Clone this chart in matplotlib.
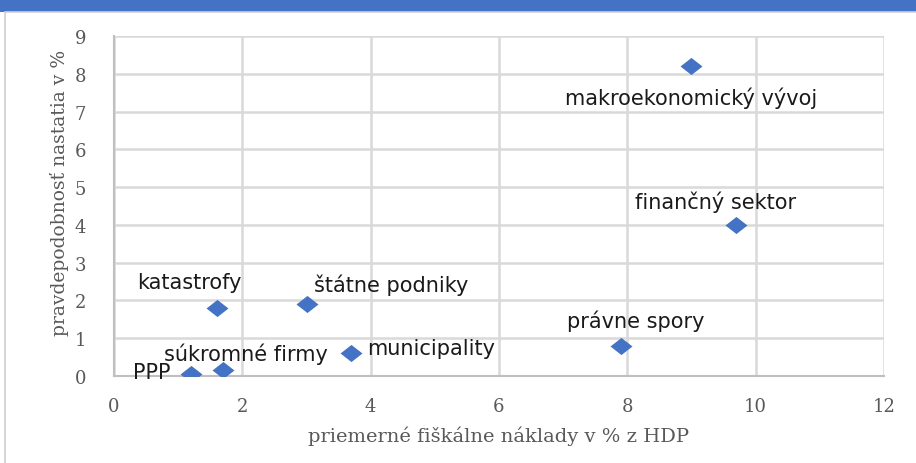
import matplotlib.pyplot as plt
from matplotlib.patches import Rectangle

# data
labels = ['makroekonomický vývoj', 'finančný sektor', 'právne spory', 'štátne podniky',
          'katastrofy', 'municipality', 'súkromné firmy', 'PPP']
costs = [9.0, 9.7, 7.9, 3.0, 1.6, 3.7, 1.7, 1.2]
probs = [8.2, 4.0, 0.8, 1.9, 1.8, 0.6, 0.17, 0.06]
# label offsets in pixels (text centre relative to point)
offsets = [(0, -31), (-21, 24), (15, 26), (85, 20), (-27, 26), (80, 5), (23, 16), (-39, 2)]

blue = '#4472C4'
grid = '#d9d9d9'
tick_col = '#595959'

fig = plt.figure(figsize=(9.16, 4.64), dpi=100)
fig.patch.set_facecolor('white')

# blue header strip and light frame
fig.patches.append(Rectangle((0, 1 - 13/464), 1, 13/464, transform=fig.transFigure,
                             facecolor=blue, edgecolor='none'))
fig.patches.append(Rectangle((5/916, -0.05), 1.1, 1 - 13/464 + 0.05, transform=fig.transFigure,
                             facecolor='none', edgecolor='#d0d0d0', lw=1.2))

ax = fig.add_axes([114/916, 87/464, 770/916, 340/464])
diamond = [(-1, 0), (0, -0.78), (1, 0), (0, 0.78), (-1, 0)]
ax.scatter(costs, probs, marker=diamond, s=250, color=blue, zorder=3, linewidths=0)

for name, x, y, off in zip(labels, costs, probs, offsets):
    ax.annotate(name, (x, y), xytext=off, textcoords='offset pixels',
                ha='center', va='center', fontsize=15, family='DejaVu Sans', color='#1a1a1a')

ax.set_xlim(0, 12)
ax.set_ylim(0, 9)
ax.set_xticks(range(0, 13, 2))
ax.set_yticks(range(0, 10))
ax.grid(True, color=grid, lw=1.8)
ax.set_axisbelow(True)
for s in ['top', 'right']:
    ax.spines[s].set_visible(False)
for s in ['left', 'bottom']:
    ax.spines[s].set_color('#bfbfbf')
    ax.spines[s].set_linewidth(1.5)
ax.tick_params(length=0, labelsize=13, labelcolor=tick_col)
ax.tick_params(axis='y', pad=20)
ax.tick_params(axis='x', pad=15)
for t in ax.get_xticklabels() + ax.get_yticklabels():
    t.set_family('DejaVu Serif')

ax.set_xlabel('priemerné fiškálne náklady v % z HDP', family='DejaVu Serif',
              fontsize=14, color=tick_col, labelpad=8)
ax.set_ylabel('pravdepodobnosť nastatia v %', family='DejaVu Serif',
              fontsize=13.5, color=tick_col)
ax.yaxis.set_label_coords(-45/770, 0.54)

fig.savefig('out.png', dpi=100)
